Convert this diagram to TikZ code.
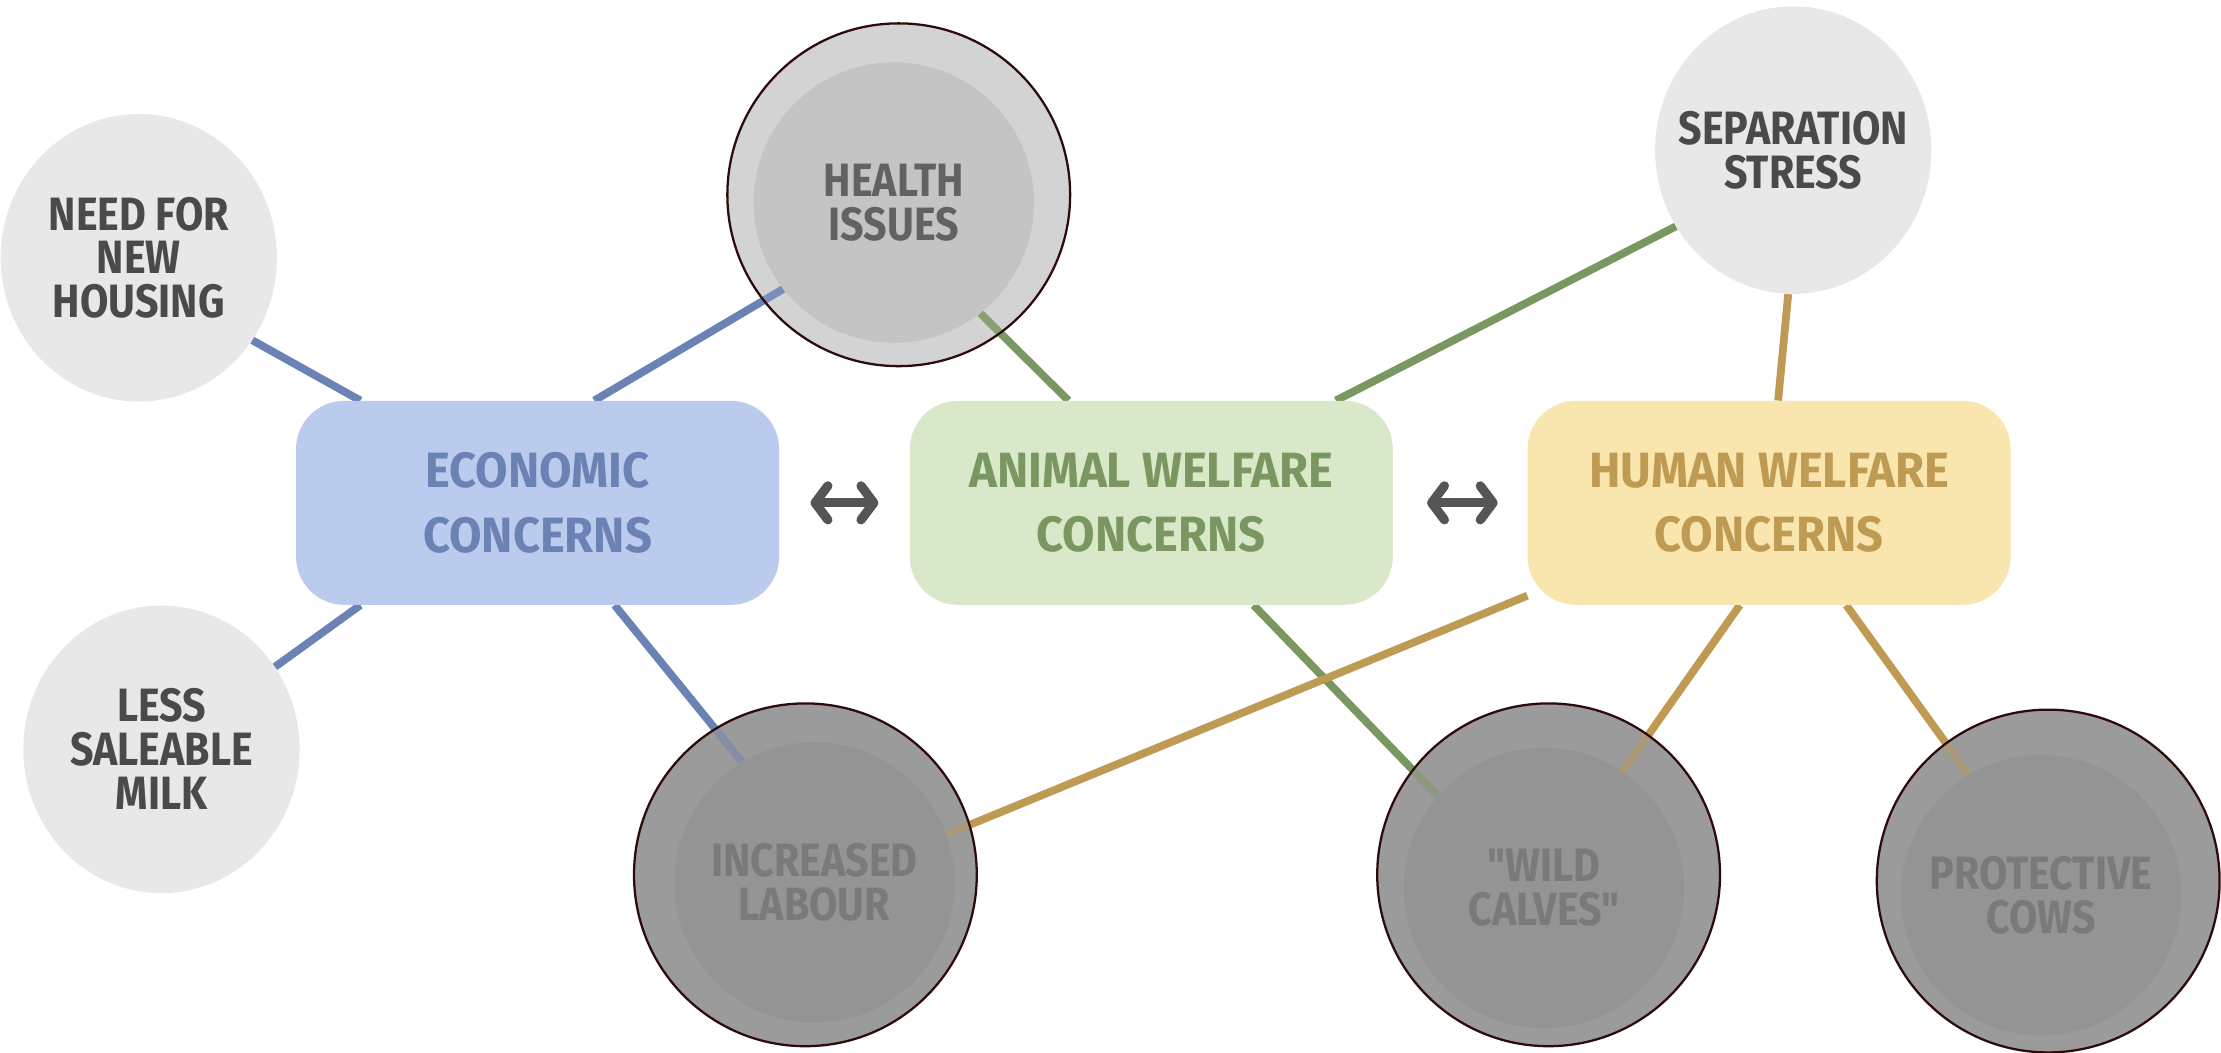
\documentclass[tikz,border=0pt]{standalone}
\usepackage{fontspec}
\setmainfont{Fira Sans}[FakeStretch=0.88,Ligatures=TeXOff]
\newfontfamily\bigfam{Fira Sans}[FakeStretch=0.95]
\usetikzlibrary{arrows.meta,shapes.geometric}
\definecolor{blobgray}{HTML}{E8E8E8}
\definecolor{blobtext}{HTML}{4A4A4A}
\definecolor{hring}{HTML}{D3D3D3}
\definecolor{hinner}{HTML}{C4C4C4}
\definecolor{htext}{HTML}{626262}
\definecolor{dring}{HTML}{9B9B9B}
\definecolor{dinner}{HTML}{949494}
\definecolor{dtext}{HTML}{7A7A7A}
\definecolor{ringborder}{HTML}{2E0A0A}
\definecolor{econfill}{HTML}{BACBEE}
\definecolor{econtext}{HTML}{6A82B4}
\definecolor{animfill}{HTML}{D8E8C9}
\definecolor{animtext}{HTML}{7A9762}
\definecolor{humfill}{HTML}{F9E5AE}
\definecolor{humtext}{HTML}{BF9A52}
\definecolor{arrowgray}{HTML}{555555}
\pgfdeclarelayer{back}
\pgfdeclarelayer{mid}
\pgfsetlayers{back,mid,main}
\newcommand\smallfont{\bfseries\fontsize{33}{31}\selectfont}
\newcommand\bigfont{\bigfam\bfseries\fontsize{35}{45.5}\selectfont}
\begin{document}
\begin{tikzpicture}[x=1pt,y=-1pt,
  blob/.style={ellipse, fill=blobgray, minimum width=195pt, minimum height=203pt,
    inner sep=-40pt, align=center, font=\smallfont, text=blobtext},
  concern/.style={rectangle, rounded corners=34pt, minimum width=341pt, minimum height=144pt,
    inner sep=0pt, align=center, font=\bigfont},
  ringnode/.style={circle, minimum size=242pt, inner sep=0pt, draw=ringborder, line width=1.6pt},
  ringbase/.style={circle, minimum size=242pt, inner sep=0pt},
  inblob/.style={circle, minimum size=198pt, inner sep=-40pt, align=center, font=\smallfont},
  conn/.style={line width=5.5pt},
  bline/.style={conn, draw=econtext},
  gline/.style={conn, draw=animtext},
  oline/.style={conn, draw=humtext},
  dbl/.style={draw=arrowgray, line width=6.5pt,
    {Straight Barb[length=9pt,width=24pt,round]}-{Straight Barb[length=9pt,width=24pt,round]}}
]
\begin{pgfonlayer}{back}
\fill[white] (0,0) rectangle (1568,743.4);
\end{pgfonlayer}
\useasboundingbox (0,0) rectangle (1568,743.4);

% light blobs
\node[blob] (need) at (98,182) {NEED FOR\\NEW\\HOUSING};
\node[blob] (less) at (114,529) {LESS\\SALEABLE\\MILK};
\node[blob] (sep) at (1266,106) {SEPARATION\\STRESS};

% concern boxes
\node[concern, fill=econfill, text=econtext] (econ) at (379.5,355) {ECONOMIC\\CONCERNS};
\node[concern, fill=animfill, text=animtext] (animal) at (812.8,355) {ANIMAL WELFARE\\CONCERNS};
\node[concern, fill=humfill, text=humtext] (human) at (1249,355) {HUMAN WELFARE\\CONCERNS};

% circles (semi-transparent overlay on top of connectors)
\node[ringnode, fill=hring, fill opacity=0.15] (health) at (634.5,137.5) {};
\node[inblob, fill=hinner, text=htext] (healthin) at (631,143) {HEALTH\\ISSUES};
\node[ringnode, fill=dring, fill opacity=0.55] (inc) at (568.6,617.6) {};
\node[inblob, fill=dinner, text=dtext] (incin) at (575,623) {INCREASED\\LABOUR};
\node[ringnode, fill=dring, fill opacity=0.55] (wild) at (1093.3,617.6) {};
\node[inblob, fill=dinner, text=dtext] (wildin) at (1090,627) {"WILD\\CALVES"};
\node[ringnode, fill=dring, fill opacity=0.55] (prot) at (1446,622) {};
\node[inblob, fill=dinner, text=dtext] (protin) at (1441,632) {PROTECTIVE\\COWS};

\begin{pgfonlayer}{back}
\node[ringbase, fill=hring] at (health.center) {};
\node[ringbase, fill=dring] at (inc.center) {};
\node[ringbase, fill=dring] at (wild.center) {};
\node[ringbase, fill=dring] at (prot.center) {};
\end{pgfonlayer}

% double arrows
\draw[dbl, shorten <=22pt, shorten >=22pt] (econ.east) -- (animal.west);
\draw[dbl, shorten <=24pt, shorten >=21pt] (animal.east) -- (human.west);

\begin{pgfonlayer}{mid}
\draw[bline] (need.-36) -- (econ.150);
\draw[bline] (econ.61) -- (healthin.218);
\draw[bline] (less.36) -- (econ.210);
\draw[bline] (econ.-53) -- (incin.121);
\draw[gline] (healthin.-52) -- (animal.129);
\draw[gline] (animal.29) -- (sep.213);
\draw[gline] (animal.-45) -- (wildin.139);
\draw[oline] (sep.268) -- (human.85);
\draw[oline] (human.201) -- (incin.20);
\draw[oline] (human.254) -- (wildin.56);
\draw[oline] (human.-53) -- (protin.121);
\end{pgfonlayer}
\end{tikzpicture}
\end{document}
